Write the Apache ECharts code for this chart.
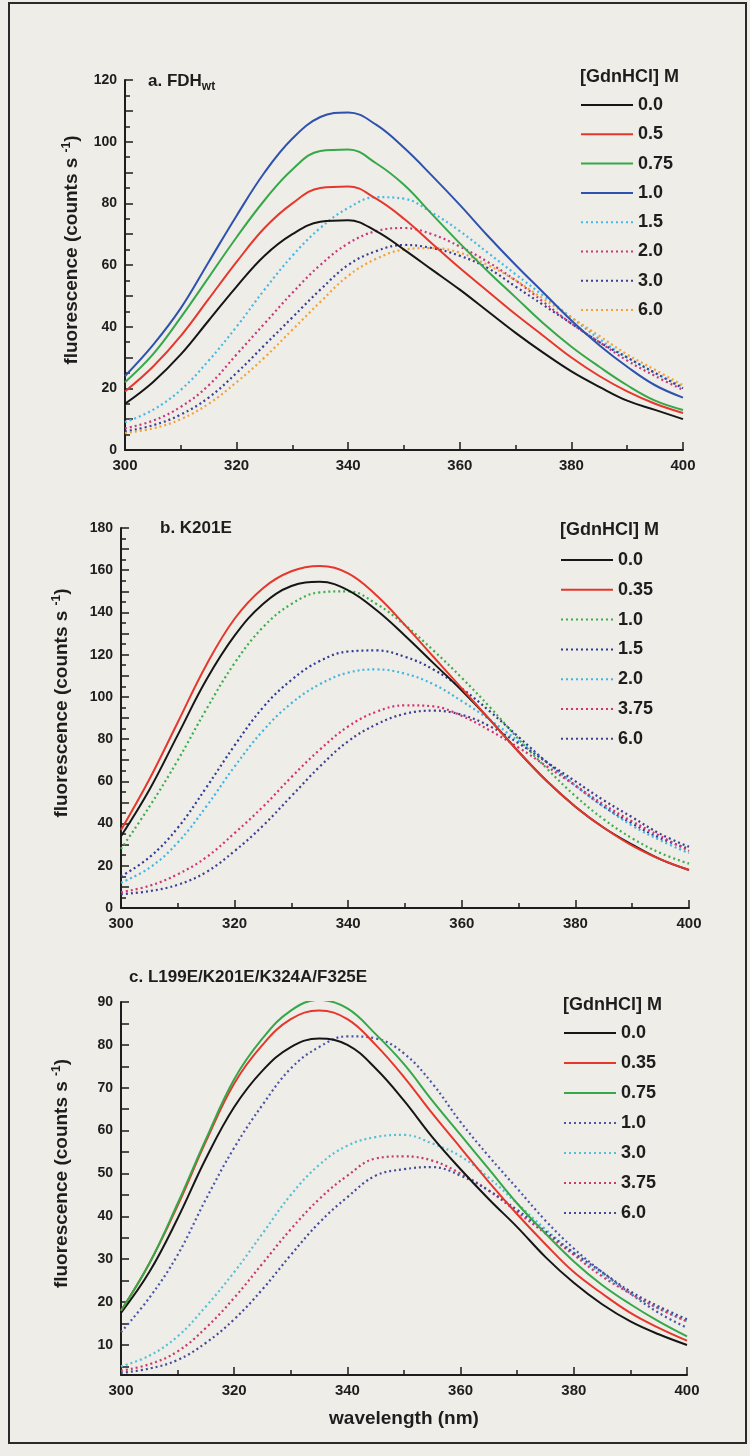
<!DOCTYPE html>
<html>
<head>
<meta charset="utf-8">
<title>Fluorescence emission spectra in GdnHCl</title>
<script src="https://cdn.jsdelivr.net/npm/echarts@6/dist/echarts.min.js"></script>
<style>
  html, body { margin: 0; padding: 0; background: #eeede8; }
  #chart { width: 750px; height: 1456px; }
</style>
</head>
<body>
<div id="chart"></div>
<script>
// Emission wavelength grid (nm)
const wavelength = [300, 305, 310, 315, 320, 325, 330, 335, 340, 345, 350,
                    355, 360, 365, 370, 375, 380, 385, 390, 395, 400];

// ---- a. FDH wild type: fluorescence (counts/s) per [GdnHCl] ----
const fdhLabels = ['0.0', '0.5', '0.75', '1.0', '1.5', '2.0', '3.0', '6.0'];
const fdh_0_0  = [15, 22, 31, 42, 53, 63, 70, 74, 74.5, 71, 65, 58.5, 52, 45, 38, 31.5, 25.5, 20.5, 16, 13, 10];
const fdh_0_5  = [19, 27, 37, 49, 61, 72, 80, 85, 85.5, 81.5, 75, 67, 59, 51.5, 44, 37, 30, 24, 19, 15, 12];
const fdh_0_75 = [22, 31, 43, 56, 69, 81, 91, 97, 97.5, 93, 86, 76.5, 67, 58, 49.5, 41, 33.5, 27, 21, 16, 13];
const fdh_1_0  = [24, 34, 46, 61, 76, 90, 101, 108, 109.5, 105.5, 98, 89, 79.5, 69.5, 60, 51, 42, 34, 27, 21, 17];
const fdh_1_5  = [9, 13, 19.5, 29, 40, 52, 63, 72, 78.5, 82, 81.5, 77, 71, 64, 57, 50, 43, 36, 30, 25, 20.5];
const fdh_2_0  = [7, 9.5, 14, 21, 31, 41, 51, 60, 67, 71, 72, 70, 66, 61, 55, 48, 41, 35, 29, 24, 19.5];
const fdh_3_0  = [6, 8, 11.5, 17, 25, 34, 43, 52, 60, 64.5, 66.5, 65.5, 63, 59, 53, 47, 41, 35, 30, 25, 20];
const fdh_6_0  = [5.5, 7, 10, 15, 22, 30, 39, 48, 56.5, 62, 65, 65.5, 64, 60, 55, 49, 43, 37, 31, 26, 21];

// ---- b. K201E ----
const k201eLabels = ['0.0', '0.35', '1.0', '1.5', '2.0', '3.75', '6.0'];
const k201e_0_0  = [34, 56, 82, 108, 129, 144, 152.5, 154.5, 150.5, 141, 129, 116, 103, 89, 74, 60, 48, 38, 30, 23, 18];
const k201e_0_35 = [37, 61, 88, 115, 137, 151.5, 159.5, 162, 158.5, 148, 134, 119, 104, 89, 74, 60, 48, 38, 29.5, 23, 18];
const k201e_1_0  = [28, 48, 70, 94, 116, 133, 144, 149.5, 150, 144, 134, 122, 109, 95, 80, 66, 53, 42, 33, 26, 21];
const k201e_1_5  = [15, 24, 38, 57, 77, 95, 108, 117, 121.5, 122, 119, 113, 104, 93, 81, 69, 58, 48, 40, 33, 28];
const k201e_2_0  = [12, 19, 31, 48, 67, 84, 97, 106, 111.5, 113, 111, 106, 98, 89, 79, 69, 58, 48, 39, 32, 26];
const k201e_3_75 = [7.5, 10.5, 16, 24, 35.5, 48, 62, 75, 86, 93, 96, 95.5, 91, 84, 76, 67, 58, 49, 41, 34, 27];
const k201e_6_0  = [6.5, 8, 11, 17, 27, 39, 53, 67, 79, 87, 92, 93.5, 91.5, 86, 78, 69, 60, 51, 43, 35, 29];

// ---- c. L199E/K201E/K324A/F325E ----
const mutLabels = ['0.0', '0.35', '0.75', '1.0', '3.0', '3.75', '6.0'];
const mut_0_0  = [17.5, 27, 39.5, 53.5, 65.5, 74, 79.5, 81.5, 80, 74.5, 67, 58.5, 51, 44, 37.5, 30.5, 24.5, 19.5, 15.5, 12.5, 10];
const mut_0_35 = [18, 29, 42.5, 57.5, 71, 80, 86, 88, 86, 80, 72.5, 64, 56, 48, 40.5, 33.5, 27, 22, 17.5, 14, 11];
const mut_0_75 = [18, 29, 43, 58, 72, 81.5, 88, 90.5, 88.5, 82.5, 75.5, 67, 59, 51, 43, 36, 29.5, 24, 19.5, 15.5, 12];
const mut_1_0  = [13, 21, 31, 44, 56, 66, 74.5, 79.5, 82, 81.5, 78, 71, 62, 54, 46.5, 39, 32.5, 27, 22, 17.5, 14];
const mut_3_0  = [5, 7.5, 12, 19, 27, 36, 45, 52, 56.5, 58.5, 59, 57, 54, 49, 43, 37, 31.5, 26.5, 22, 18.5, 15.5];
const mut_3_75 = [4, 5.5, 8.5, 14, 21, 29, 37, 44, 49.5, 53.5, 54, 53, 50, 46, 41, 36, 31, 26, 22, 18.5, 15.5];
const mut_6_0  = [3.5, 4.5, 6.5, 10.5, 16, 23, 31, 38.5, 44.5, 49.5, 51, 51.5, 49.5, 46, 41.5, 36.5, 31.5, 27, 22.5, 19, 16];

// Axis tick values
const xTicks = [300, 320, 340, 360, 380, 400];
const yTicksA = [0, 20, 40, 60, 80, 100, 120];
const yTicksB = [0, 20, 40, 60, 80, 100, 120, 140, 160, 180];
const yLabelsC = [10, 20, 30, 40, 50, 60, 70, 80, 90];
const yTicksC = [5, 10, 15, 20, 25, 30, 35, 40, 45, 50, 55, 60, 65, 70, 75, 80, 85, 90];

// ---- styling ----
const INK = '#1d1d1d';
const FONT = '"Liberation Sans", Arial, sans-serif';
const DOT = [2, 3];

const panels = [
  {
    key: 'a', labels: fdhLabels,
    values: [fdh_0_0, fdh_0_5, fdh_0_75, fdh_1_0, fdh_1_5, fdh_2_0, fdh_3_0, fdh_6_0],
    colors: ['#161616', '#e6372c', '#36a849', '#2e52ad', '#45b9e6', '#c8387a', '#3b3f92', '#f2a23a'],
    dotted: [false, false, false, false, true, true, true, true]
  },
  {
    key: 'b', labels: k201eLabels,
    values: [k201e_0_0, k201e_0_35, k201e_1_0, k201e_1_5, k201e_2_0, k201e_3_75, k201e_6_0],
    colors: ['#161616', '#e6372c', '#3cae4a', '#2f3c96', '#44b5e0', '#d23470', '#3f3f94'],
    dotted: [false, false, true, true, true, true, true]
  },
  {
    key: 'c', labels: mutLabels,
    values: [mut_0_0, mut_0_35, mut_0_75, mut_1_0, mut_3_0, mut_3_75, mut_6_0],
    colors: ['#161616', '#e6372c', '#36a849', '#4a55a8', '#54c0d8', '#c83a6a', '#454a98'],
    dotted: [false, false, false, true, true, true, true]
  }
];

// Plot rectangles (px) for the three stacked panels
const grids = [
  { left: 125, top: 80,   width: 558, height: 370 },
  { left: 121, top: 528,  width: 568, height: 380 },
  { left: 121, top: 1002, width: 566, height: 373 }
];

const series = [];
panels.forEach((p, gi) => {
  p.labels.forEach((lab, i) => {
    series.push({
      type: 'line',
      name: p.key + '|' + lab,
      xAxisIndex: gi,
      yAxisIndex: gi,
      data: wavelength.map((w, k) => [w, p.values[i][k]]),
      smooth: 0.4,
      symbol: 'none',
      silent: true,
      z: p.dotted[i] ? 2 : 3,
      lineStyle: {
        color: p.colors[i],
        width: p.dotted[i] ? 2.2 : 2,
        type: p.dotted[i] ? DOT : 'solid'
      },
      itemStyle: { color: p.colors[i] }
    });
  });
});

const labelFont = { color: INK, fontFamily: FONT, fontWeight: 'bold' };

function xAxisFor(gi, withName) {
  return {
    type: 'value', gridIndex: gi, min: 300, max: 400, interval: 20,
    axisLine: { show: true, onZero: false, lineStyle: { color: INK, width: 2 } },
    axisTick: { show: true, inside: true, length: 8, lineStyle: { color: INK, width: 1.5 } },
    minorTick: { show: true, splitNumber: 2, length: 5, lineStyle: { color: INK, width: 1.5 } },
    axisLabel: Object.assign({ fontSize: 15, margin: 8,
      formatter: v => xTicks.includes(v) ? String(v) : '' }, labelFont),
    splitLine: { show: false },
    minorSplitLine: { show: false },
    name: withName ? 'wavelength (nm)' : '',
    nameLocation: 'middle',
    nameGap: 34,
    nameTextStyle: Object.assign({ fontSize: 19 }, labelFont)
  };
}

const yName = 'fluorescence (counts s {sup|-1})';
const yNameStyle = Object.assign({
  fontSize: 19, lineHeight: 22, padding: [0, 0, 0, 30],
  rich: { sup: { fontSize: 12, lineHeight: 12, verticalAlign: 'top', fontWeight: 'bold', fontFamily: FONT, color: INK } }
}, labelFont);

function yAxisFor(gi, min, max, interval, ticks, gap) {
  const ax = {
    type: 'value', gridIndex: gi, min: min, max: max,
    axisLine: { show: true, lineStyle: { color: INK, width: 2 } },
    axisTick: { show: true, inside: true, length: 8, lineStyle: { color: INK, width: 1.5 } },
    axisLabel: Object.assign({ fontSize: 14, margin: 8 }, labelFont),
    splitLine: { show: false },
    name: yName, nameLocation: 'middle', nameRotate: 90, nameGap: gap,
    nameTextStyle: yNameStyle
  };
  if (interval) {
    ax.interval = interval;
    ax.axisLabel.formatter = v => ticks.includes(v) ? String(v) : '';
    ax.minorTick = { show: true, splitNumber: 2, length: 5, lineStyle: { color: INK, width: 1.5 } };
  }
  return ax;
}

const yC = yAxisFor(2, 3, 90, null, null, 48);
yC.axisLabel.customValues = yLabelsC;
yC.axisTick.customValues = yTicksC;

// Legend blocks, one per panel (line sample only, no marker)
const legendPos = [
  { left: 580, top: 96,  gap: 11.3 },
  { left: 560, top: 551, gap: 11.8 },
  { left: 563, top: 1024, gap: 12 }
];
const legends = panels.map((p, gi) => ({
  data: p.labels.map(l => p.key + '|' + l),
  orient: 'vertical',
  left: legendPos[gi].left,
  top: legendPos[gi].top,
  padding: 0,
  itemWidth: 52,
  itemHeight: 14,
  itemGap: legendPos[gi].gap,
  selectedMode: false,
  itemStyle: { color: 'rgba(0,0,0,0)', borderWidth: 0, opacity: 0 },
  formatter: n => n.split('|')[1],
  textStyle: Object.assign({ fontSize: 18, lineHeight: 18 }, labelFont)
}));

const headerStyle = Object.assign({ fontSize: 18, lineHeight: 18 }, labelFont);
const titles = [
  { text: 'a. FDH{sub|wt}', left: 148, top: 69, padding: 0,
    textStyle: Object.assign({ fontSize: 17, lineHeight: 24,
      rich: { sub: { fontSize: 12, lineHeight: 12, verticalAlign: 'bottom', fontWeight: 'bold', fontFamily: FONT, color: INK } } }, labelFont) },
  { text: 'b. K201E', left: 160, top: 519, padding: 0,
    textStyle: Object.assign({ fontSize: 17, lineHeight: 18 }, labelFont) },
  { text: 'c. L199E/K201E/K324A/F325E', left: 129, top: 968, padding: 0,
    textStyle: Object.assign({ fontSize: 17, lineHeight: 18 }, labelFont) },
  { text: '[GdnHCl] M', left: 580, top: 68, padding: 0, textStyle: headerStyle },
  { text: '[GdnHCl] M', left: 560, top: 521, padding: 0, textStyle: headerStyle },
  { text: '[GdnHCl] M', left: 563, top: 996, padding: 0, textStyle: headerStyle }
];

const option = {
  backgroundColor: '#eeede8',
  animation: false,
  title: titles,
  legend: legends,
  grid: grids,
  xAxis: [xAxisFor(0, false), xAxisFor(1, false), xAxisFor(2, true)],
  yAxis: [
    yAxisFor(0, 0, 120, 10, yTicksA, 42),
    yAxisFor(1, 0, 180, 10, yTicksB, 48),
    yC
  ],
  series: series,
  graphic: [{
    type: 'rect', silent: true,
    shape: { x: 9, y: 3, width: 737, height: 1440 },
    style: { fill: 'none', stroke: '#2a2a2a', lineWidth: 2 }
  }]
};

const chart = echarts.init(document.getElementById('chart'), null, { renderer: 'canvas' });
chart.setOption(option);
</script>
</body>
</html>
